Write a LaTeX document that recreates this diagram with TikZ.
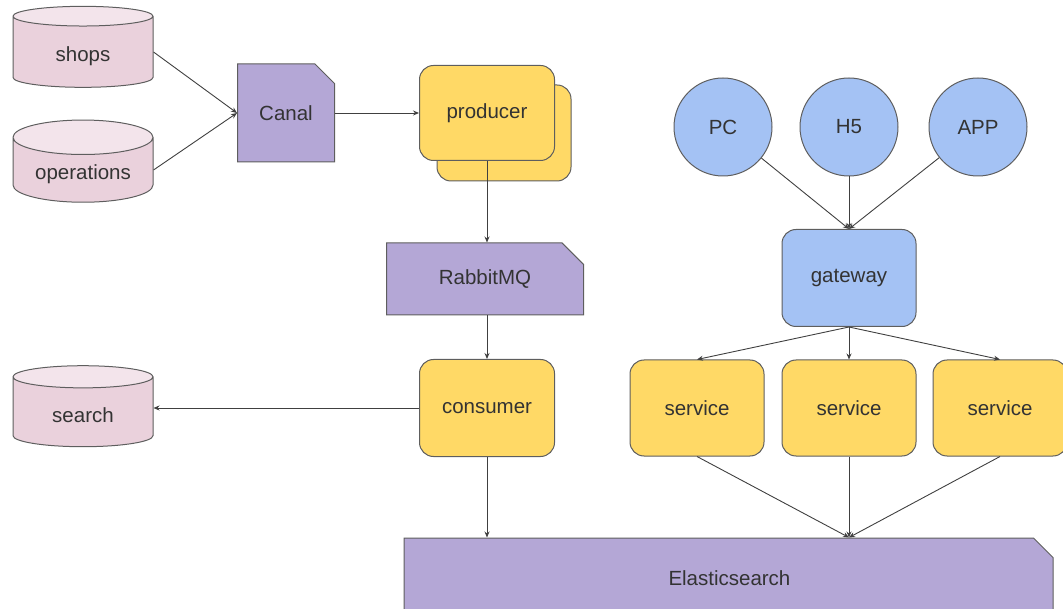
\documentclass[tikz,border=0pt]{standalone}
\usepackage{fontspec}
\setmainfont{Liberation Sans}
\usetikzlibrary{shapes.geometric,shapes.misc,arrows.meta}
\definecolor{dbpink}{HTML}{EAD1DC}
\definecolor{dbtop}{HTML}{F3E4EB}
\definecolor{mqpurple}{HTML}{B4A7D6}
\definecolor{appyellow}{HTML}{FFD966}
\definecolor{cliblue}{HTML}{A4C2F4}
\definecolor{rim}{HTML}{5E5E5E}
\begin{document}
\begin{tikzpicture}[x=1pt, y=-1pt, >={Stealth[length=6pt,width=5pt]},
  every node/.style={font=\fontsize{20.5}{24}\selectfont, text=black!80, inner sep=0pt},
  db/.style={cylinder, shape border rotate=90, aspect=0.36, draw=rim, line width=1pt,
    cylinder uses custom fill, cylinder body fill=dbpink, cylinder end fill=dbtop,
    minimum width=140pt, minimum height=81pt, text height=25pt, text depth=5pt},
  mq/.style={chamfered rectangle, chamfered rectangle corners=north east,
    chamfered rectangle xsep=12pt, chamfered rectangle ysep=12pt,
    draw=rim, line width=1pt, fill=mqpurple},
  app/.style={rectangle, rounded corners=14pt, draw=rim, line width=1pt, fill=appyellow,
    minimum width=134pt, minimum height=96pt},
  cli/.style={circle, draw=rim, line width=1pt, fill=cliblue, minimum size=98pt},
  wire/.style={->, draw=black!75, line width=0.9pt}]

  \useasboundingbox (0,0) rectangle (1063,609);

  % sources
  \node[db] (shops) at (83,52) {shops};
  \node[db, minimum height=79pt] (ops) at (83,170) {operations};
  \node[db] (search) at (83,412) {search};

  \node[mq, minimum width=97pt, minimum height=98pt] (canal) at (286,113) {Canal};

  \node[app] (prodback) at (504,133) {};
  \node[app, minimum width=135pt, minimum height=95pt] (prod) at (487,113) {producer};

  \node[mq, minimum width=197pt, minimum height=72pt] (rabbit) at (485,279) {RabbitMQ};
  \node[app, minimum width=135pt, minimum height=97pt] (cons) at (487,408) {consumer};

  \node[mq, minimum width=649pt, minimum height=80pt, text width=630pt, align=left] (es) at (728.5,578) {\hspace{255pt}Elasticsearch};

  % clients
  \node[cli] (pc) at (723,127) {PC};
  \node[cli] (h5) at (849,127) {H5};
  \node[cli] (appc) at (978,127) {APP};

  \node[app, fill=cliblue, minimum height=97pt] (gw) at (849,278) {gateway};

  \node[app] (svcA) at (697,408) {service};
  \node[app] (svcB) at (849,408) {service};
  \node[app] (svcC) at (1000,408) {service};

  \draw[wire] (shops.east) -- (canal.west); %% shops->Canal
  \draw[wire] (ops.east) -- (canal.west); %% operations->Canal
  \draw[wire] (canal.east) -- (prod.west); %% Canal->producer
  \draw[wire] (prod.south) -- (prod.south |- rabbit.north); %% producer->MQ
  \draw[wire] (prod.south |- rabbit.south) -- (prod.south |- cons.north); %% MQ->consumer
  \draw[wire] (cons.west) -- (cons.west -| search.east); %% consumer->search
  \draw[wire] (cons.south) -- (cons.south |- es.north); %% consumer->ES

  \draw[wire] (pc) -- (gw.north);
  \draw[wire] (h5) -- (gw.north);
  \draw[wire] (appc) -- (gw.north);

  \foreach \s in {svcA,svcB,svcC}{
    \draw[wire] (gw.south) -- (\s.north); % gateway->service
    \draw[wire] (\s.south) -- (gw.south |- es.north); % service->ES
  }

\end{tikzpicture}
\end{document}
